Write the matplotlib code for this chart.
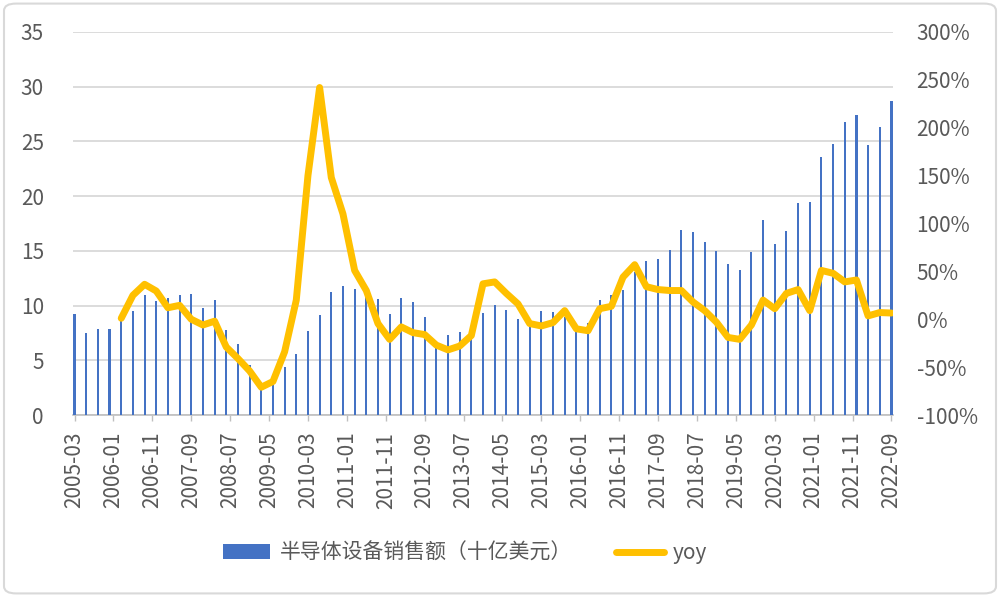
import matplotlib
matplotlib.use("Agg")
import matplotlib.pyplot as plt
from matplotlib.patches import FancyBboxPatch
from matplotlib.ticker import FuncFormatter, FixedLocator

plt.rcParams['font.family'] = ['Noto Sans CJK SC', 'DejaVu Sans']

# ---- data ----
quarters = [f"{y}-{m:02d}" for y in range(2005, 2023) for m in (3, 6, 9, 12)][:71]

sales = [9.2, 7.5, 7.9, 7.9, 8.7, 9.5, 11.0, 10.4, 10.7, 11.0, 11.1, 9.75,
         10.5, 7.8, 6.5, 4.6, 3.0, 2.7, 4.4, 5.6, 7.7, 9.1, 11.2, 11.8,
         11.55, 10.8, 10.6, 9.2, 10.7, 10.35, 9.0, 6.7, 7.3, 7.55, 7.5, 9.3,
         10.05, 9.6, 8.8, 8.6, 9.5, 9.4, 9.0, 7.8, 8.4, 10.5, 11.0, 11.4,
         13.1, 14.1, 14.3, 15.1, 16.9, 16.7, 15.8, 15.0, 13.8, 13.25, 14.9, 17.8,
         15.6, 16.8, 19.35, 19.5, 23.6, 24.8, 26.75, 27.4, 24.7, 26.35, 28.7]

yoy_quarters = quarters[4:]
yoy = [1, 25, 36.5, 29.5, 12, 14.5, 0, -6, -2, -29, -41, -54,
       -71, -65, -34, 20, 150, 242, 148, 110, 51, 30, -4.5, -21,
       -8, -14, -16, -27, -32, -28, -17, 37, 39, 27, 16, -4.5,
       -7, -3.5, 9, -10, -12, 11, 13.5, 44, 57, 34, 31, 30,
       30, 18, 9, -3, -19, -21, -6, 20, 11, 27, 31, 9,
       51, 48, 39, 41, 3.5, 7, 6.5]

tick_labels = ["2005-03", "2006-01", "2006-11", "2007-09", "2008-07", "2009-05",
               "2010-03", "2011-01", "2011-11", "2012-09", "2013-07", "2014-05",
               "2015-03", "2016-01", "2016-11", "2017-09", "2018-07", "2019-05",
               "2020-03", "2021-01", "2021-11", "2022-09"]

bar_label = "半导体设备销售额（十亿美元）"
line_label = "yoy"


def month_index(s):
    y, m = s.split("-")
    return (int(y) - 2005) * 12 + int(m) - 3


xb = [month_index(q) for q in quarters]
xl = [month_index(q) for q in yoy_quarters]
xt = [month_index(t) for t in tick_labels]

grey_txt = "#595959"
grid_c = "#d9d9d9"
fs = 15

fig = plt.figure(figsize=(10, 5.97), dpi=100)
ax = fig.add_axes([0.073, 1 - 415 / 597, 0.820, (415 - 32) / 597])
ax2 = ax.twinx()

ax.bar(xb, sales, width=0.55, color="#4472C4", label=bar_label, zorder=2)
ax2.plot(xl, yoy, color="#FFC000", lw=5, solid_joinstyle="round",
         solid_capstyle="round", label=line_label, zorder=3)

ax.set_xlim(-0.4, 210.4)
ax.set_ylim(0, 35)
ax.set_yticks(range(0, 36, 5))
ax2.set_ylim(-100, 300)
ax2.set_yticks(range(-100, 301, 50))
ax2.yaxis.set_major_formatter(FuncFormatter(lambda v, p: f"{int(v)}%"))

ax.xaxis.set_major_locator(FixedLocator(xt))
ax.set_xticklabels(tick_labels, rotation=90, va="top", ha="center")

ax.grid(axis="y", color=grid_c, lw=1.3, zorder=0)
ax.set_axisbelow(True)
for a in (ax, ax2):
    for s in a.spines.values():
        s.set_visible(False)
ax.spines["bottom"].set_visible(True)
ax.spines["bottom"].set_color("#bfbfbf")
ax.spines["bottom"].set_linewidth(1.2)
ax.spines["bottom"].set_zorder(1)

ax.tick_params(axis="y", length=0, pad=21, labelsize=fs, labelcolor=grey_txt)
ax2.tick_params(axis="y", length=0, pad=17, labelsize=fs, labelcolor=grey_txt)
ax.tick_params(axis="x", length=4, width=1, color="#bfbfbf", pad=8,
               labelsize=fs, labelcolor=grey_txt)

ax2.set_zorder(ax.get_zorder() + 1)
ax2.patch.set_visible(False)

h1, l1 = ax.get_legend_handles_labels()
h2, l2 = ax2.get_legend_handles_labels()
leg = fig.legend(h1 + h2, l1 + l2, loc="center", bbox_to_anchor=(0.465, 1 - 553 / 597),
                 ncol=2, frameon=False, fontsize=fs, handlelength=2.3,
                 handletextpad=0.45, columnspacing=2.1)
for t in leg.get_texts():
    t.set_color(grey_txt)

border = FancyBboxPatch((0.004, 0.006), 0.992, 0.988, boxstyle="round,pad=0,rounding_size=0.012",
                        transform=fig.transFigure, fill=False, edgecolor="#d9d9d9", lw=1.5)
fig.patches.append(border)

fig.savefig("out.png", dpi=100)
